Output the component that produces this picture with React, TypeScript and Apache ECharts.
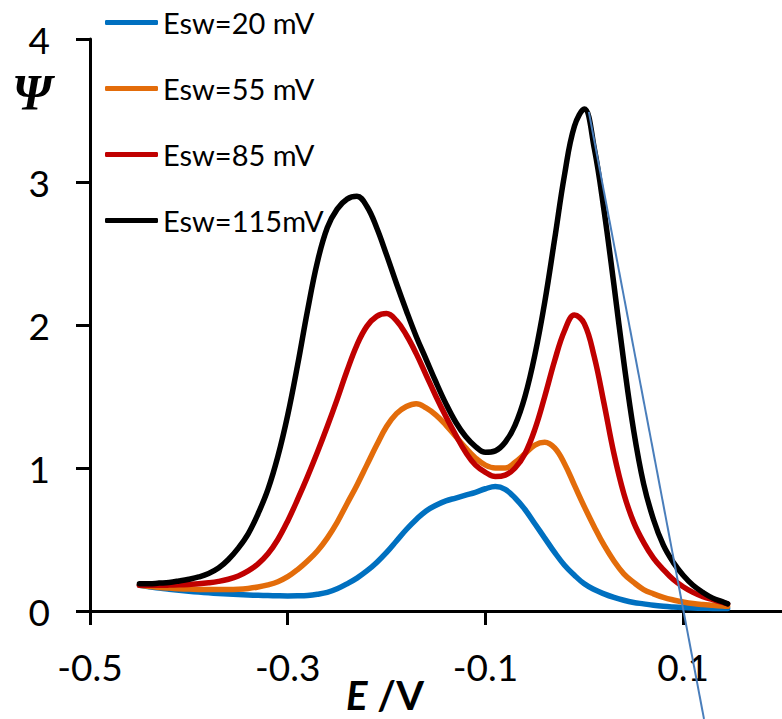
import React, { useEffect, useRef } from "react";
import * as echarts from "echarts";

const E = [
  -0.45, -0.44, -0.43, -0.42, -0.41, -0.4, -0.39, -0.38, -0.37, -0.36, -0.35,
  -0.34, -0.33, -0.32, -0.31, -0.3, -0.29, -0.28, -0.27, -0.26, -0.25, -0.24,
  -0.23, -0.22, -0.21, -0.2, -0.19, -0.18, -0.17, -0.16, -0.15, -0.14, -0.13,
  -0.12, -0.11, -0.1, -0.09, -0.08, -0.07, -0.06, -0.05, -0.04, -0.03, -0.02,
  -0.01, 0.0, 0.01, 0.02, 0.03, 0.04, 0.05, 0.06, 0.07, 0.08, 0.09, 0.1, 0.11,
  0.12, 0.13, 0.14, 0.145,
];

const psi20 = [
  0.18, 0.17, 0.16, 0.152, 0.145, 0.138, 0.132, 0.127, 0.122, 0.118, 0.115,
  0.112, 0.11, 0.108, 0.106, 0.105, 0.106, 0.109, 0.117, 0.13, 0.155, 0.19,
  0.23, 0.28, 0.34, 0.41, 0.49, 0.57, 0.64, 0.7, 0.74, 0.77, 0.79, 0.81, 0.83,
  0.855, 0.87, 0.85, 0.79, 0.71, 0.61, 0.51, 0.41, 0.32, 0.25, 0.19, 0.15, 0.12,
  0.095, 0.075, 0.06, 0.05, 0.04, 0.033, 0.028, 0.024, 0.021, 0.019, 0.018,
  0.017, 0.017,
];

const psi55 = [
  0.18, 0.172, 0.165, 0.16, 0.156, 0.153, 0.151, 0.15, 0.15, 0.15, 0.152, 0.158,
  0.168, 0.183, 0.205, 0.24, 0.29, 0.35, 0.42, 0.51, 0.62, 0.75, 0.88, 1.02,
  1.16, 1.29, 1.38, 1.43, 1.45, 1.42, 1.37, 1.3, 1.22, 1.14, 1.07, 1.02, 1.0,
  1.0, 1.04, 1.1, 1.16, 1.18, 1.14, 1.03, 0.88, 0.73, 0.59, 0.46, 0.35, 0.26,
  0.2, 0.15, 0.12, 0.095, 0.077, 0.063, 0.052, 0.045, 0.04, 0.035, 0.033,
];

const psi85 = [
  0.18, 0.18, 0.18, 0.181, 0.183, 0.186, 0.19, 0.197, 0.207, 0.222, 0.245, 0.28,
  0.33, 0.4, 0.5, 0.63, 0.78, 0.94, 1.11, 1.29, 1.48, 1.68, 1.86, 1.99, 2.06,
  2.08, 2.03, 1.93, 1.8, 1.65, 1.5, 1.36, 1.23, 1.11, 1.02, 0.97, 0.94, 0.95,
  1.0, 1.1, 1.27, 1.5, 1.75, 1.96, 2.07, 2.01, 1.78, 1.45, 1.1, 0.82, 0.62,
  0.48, 0.37, 0.29, 0.22, 0.17, 0.13, 0.1, 0.08, 0.06, 0.05,
];

const psi115 = [
  0.19, 0.19, 0.195, 0.2, 0.21, 0.222, 0.238, 0.262, 0.3, 0.36, 0.44, 0.54, 0.68,
  0.85, 1.08, 1.37, 1.72, 2.1, 2.44, 2.68, 2.81, 2.88, 2.9, 2.83, 2.68, 2.49,
  2.29, 2.1, 1.92, 1.76, 1.6, 1.45, 1.32, 1.22, 1.15, 1.11, 1.12, 1.18, 1.3,
  1.5, 1.79, 2.16, 2.6, 3.05, 3.39, 3.51, 3.24, 2.8, 2.28, 1.74, 1.26, 0.89,
  0.64, 0.46, 0.34, 0.25, 0.18, 0.13, 0.09, 0.065, 0.05,
];

// tangent line drawn on the Esw=115 mV second peak
const tangentE = [0.0046, 0.1211];
const tangentPsi = [3.49, -0.755];

const seriesNames = ["Esw=20 mV", "Esw=55 mV", "Esw=85 mV", "Esw=115mV"];
const seriesColors = ["#0070c0", "#e36c0a", "#c00000", "#000000"];
const seriesValues = [psi20, psi55, psi85, psi115];

const xTickLabels = ["-0.5", "-0.3", "-0.1", "0.1"];
const yTickLabels = ["0", "1", "2", "3", "4"];

const FONT = "Lato, 'Open Sans', sans-serif";

export default function App() {
  const ref = useRef<HTMLDivElement>(null);

  useEffect(() => {
    if (!ref.current) return;
    const chart = echarts.init(ref.current, undefined, { renderer: "svg" });

    const curves = seriesNames.map((name, i) => ({
      name,
      type: "line",
      data: E.map((x, j) => [x, seriesValues[i][j]]),
      showSymbol: false,
      symbol: "none",
      smooth: 0.4,
      lineStyle: { color: seriesColors[i], width: 5.5, cap: "round", join: "round" },
      itemStyle: { color: seriesColors[i] },
      z: 2 + i,
    }));

    const tangent = {
      name: "tangent",
      type: "line",
      data: tangentE.map((x, j) => [x, tangentPsi[j]]),
      showSymbol: false,
      symbol: "none",
      clip: false,
      lineStyle: { color: "#4a7ebb", width: 2 },
      itemStyle: { color: "#4a7ebb" },
      z: 10,
    };

    chart.setOption({
      animation: false,
      backgroundColor: "#ffffff",
      grid: { left: 90, top: 39, width: 697, height: 572, containLabel: false },
      legend: {
        data: seriesNames,
        orient: "vertical",
        left: 105,
        top: 8,
        padding: 0,
        itemGap: 37,
        itemWidth: 53,
        itemHeight: 5,
        icon: "roundRect",
        selectedMode: false,
        textStyle: { fontSize: 29, fontFamily: FONT, color: "#000" },
      },
      xAxis: {
        type: "value",
        min: -0.5,
        max: 0.2,
        interval: 0.2,
        axisLine: { show: true, onZero: false, lineStyle: { color: "#000", width: 3 } },
        axisTick: { show: true, length: 14, lineStyle: { color: "#000", width: 3 } },
        splitLine: { show: false },
        axisLabel: {
          margin: 37,
          fontSize: 37,
          fontFamily: FONT,
          color: "#000",
          showMaxLabel: false,
          formatter: (v: number) => {
            const hit = xTickLabels.find((t) => Math.abs(parseFloat(t) - v) < 1e-9);
            return hit ?? "";
          },
        },
      },
      yAxis: {
        type: "value",
        min: 0,
        max: 4,
        interval: 1,
        axisLine: { show: true, onZero: false, lineStyle: { color: "#000", width: 3 } },
        axisTick: { show: true, length: 14, lineStyle: { color: "#000", width: 3 } },
        splitLine: { show: false },
        axisLabel: {
          margin: 40,
          fontSize: 37,
          fontFamily: FONT,
          color: "#000",
          formatter: (v: number) => yTickLabels[Math.round(v)] ?? "",
        },
      },
      graphic: [
        {
          type: "text",
          x: 12,
          y: 92,
          style: {
            text: "Ψ",
            font: "italic bold 50px 'Liberation Serif', serif",
            fill: "#000",
            verticalAlign: "middle",
            align: "left",
          },
        },
        {
          type: "text",
          x: 385,
          y: 695,
          style: {
            text: "{e|E}{v| /V}",
            align: "center",
            verticalAlign: "middle",
            rich: {
              e: { fontFamily: FONT, fontSize: 40, lineHeight: 32, fontWeight: "bold", fontStyle: "italic", fill: "#000" },
              v: { fontFamily: FONT, fontSize: 40, lineHeight: 32, fontWeight: "bold", fill: "#000" },
            },
          },
        },
      ],
      series: [...curves, tangent],
    });

    return () => chart.dispose();
  }, []);

  return (
    <div
      ref={ref}
      style={{ position: "fixed", left: 0, top: 0, width: 782, height: 719, background: "#fff" }}
    />
  );
}
